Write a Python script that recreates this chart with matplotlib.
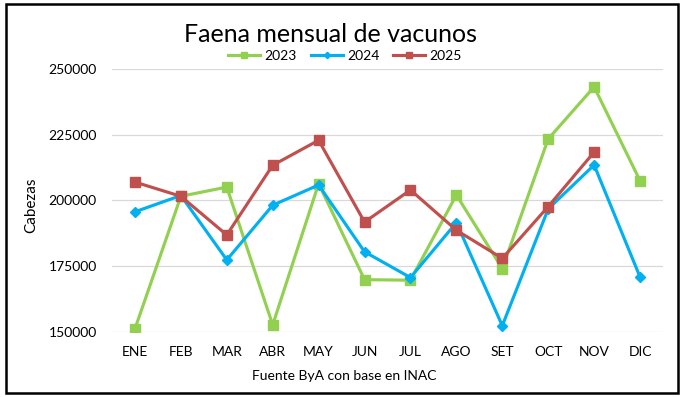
import matplotlib
matplotlib.use('Agg')
import matplotlib.pyplot as plt
from matplotlib.patches import Rectangle

plt.rcParams['font.family'] = ['Lato', 'DejaVu Sans']

meses = ['ENE', 'FEB', 'MAR', 'ABR', 'MAY', 'JUN', 'JUL', 'AGO', 'SET', 'OCT', 'NOV', 'DIC']
faena_2023 = [151200, 201600, 205100, 152700, 206400, 169900, 169700, 202100, 174100, 223400, 243200, 207500]
faena_2024 = [195700, 201900, 177400, 198200, 205900, 180500, 170700, 191600, 152400, 196800, 213500, 170900]
faena_2025 = [207000, 201600, 186900, 213400, 222900, 191800, 204000, 188700, 178000, 197700, 218400]

W, H = 680, 397
fig = plt.figure(figsize=(W / 100, H / 100), dpi=100)
ax = fig.add_axes([112 / W, 1 - 332 / H, (663 - 112) / W, (332 - 69) / H])

ax.plot(range(len(faena_2023)), faena_2023, color='#92D050', lw=2.25,
        marker='s', ms=7.5, label='2023', zorder=3)
ax.plot(range(len(faena_2024)), faena_2024, color='#00B0F0', lw=2.25,
        marker='D', ms=5, label='2024', zorder=4)
ax.plot(range(len(faena_2025)), faena_2025, color='#C0504D', lw=2.25,
        marker='s', ms=7.5, label='2025', zorder=5)

ax.set_xlim(-0.5, len(meses) - 0.5)
ax.set_ylim(150000, 250000)
ax.set_yticks(range(150000, 250001, 25000))
ax.set_xticks(range(len(meses)))
ax.set_xticklabels(meses)
ax.grid(axis='y', color='#D9D9D9', lw=0.9)
ax.set_axisbelow(True)
for s in ax.spines.values():
    s.set_visible(False)
ax.tick_params(length=0, labelsize=10, colors='black')
ax.tick_params(axis='y', pad=11)
ax.tick_params(axis='x', pad=10)

fig.text(331 / W, 1 - 42 / H, 'Faena mensual de vacunos', ha='center',
         va='baseline', fontsize=18)
fig.legend(loc='center', bbox_to_anchor=(345 / W, 1 - 56 / H), ncol=3,
           frameon=False, fontsize=10, handlelength=2.3, handletextpad=0.3,
           columnspacing=1.0, borderpad=0, markerscale=0.65)
fig.text(31 / W, 1 - 205 / H, 'Cabezas', rotation=90, ha='center', va='center',
         fontsize=11)
fig.text(344 / W, 1 - 376 / H, 'Fuente ByA con base en INAC', ha='center',
         va='center', fontsize=10)

fig.patches.append(Rectangle((6 / W, 1 - 393 / H), (678 - 6) / W, (393 - 4) / H,
                             transform=fig.transFigure, fill=False,
                             edgecolor='black', lw=1.8))

fig.savefig('out.png', dpi=100)
